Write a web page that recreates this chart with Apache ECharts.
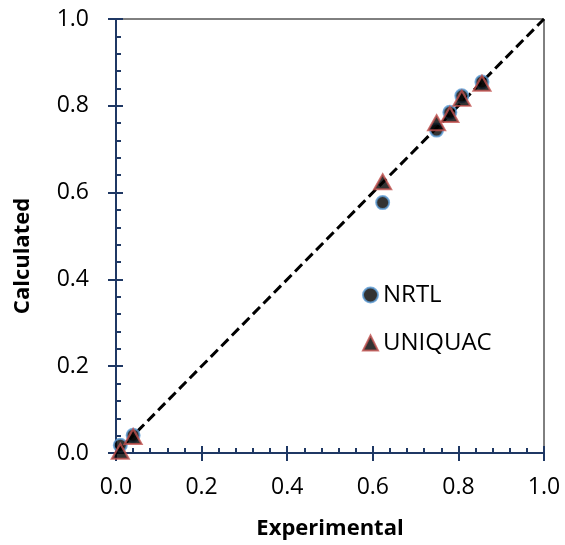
<!DOCTYPE html>
<html>
<head>
<meta charset="utf-8">
<script src="https://cdn.jsdelivr.net/npm/echarts@6/dist/echarts.min.js"></script>
<style>
  html, body { margin: 0; padding: 0; background: #fff; }
  #main { width: 565px; height: 545px; }
</style>
</head>
<body>
<div id="main"></div>
<script>
// values
var expNRTL = [0.010, 0.040, 0.623, 0.749, 0.780, 0.808, 0.855];
var calcNRTL = [0.018, 0.041, 0.577, 0.744, 0.785, 0.823, 0.855];
var expUNIQUAC = [0.010, 0.040, 0.623, 0.749, 0.780, 0.808, 0.855];
var calcUNIQUAC = [0.004, 0.038, 0.625, 0.761, 0.780, 0.817, 0.852];
var diagonal = [0, 1];   // y = x reference line

var navy = '#1F3864';
var font = 'Open Sans';

function pairs(xs, ys) {
    return xs.map(function (x, i) { return [x, ys[i]]; });
}

var dom = document.getElementById('main');
var myChart = echarts.init(dom, null, { renderer: 'canvas' });

// main axis: line, inner major ticks, inner minor ticks, labels
function mainAxis(name, isX) {
    return {
        type: 'value',
        min: 0, max: 1, interval: 0.2,
        name: name,
        nameLocation: 'middle',
        nameGap: isX ? 65 : 82,
        nameTextStyle: {
            fontFamily: font, fontSize: 22, fontWeight: 'bold', color: '#000',
            padding: isX ? 0 : [0, 40, 0, 0]   // y title sits a bit below centre in the original
        },
        axisLine: { show: true, lineStyle: { color: navy, width: 2 } },
        axisTick: { show: true, inside: true, length: 7, lineStyle: { color: navy, width: 2 } },
        minorTick: { show: true, splitNumber: 5, length: 5, lineStyle: { color: navy, width: 2 } },
        axisLabel: {
            margin: isX ? 23 : 27,
            fontFamily: font, fontSize: 23, color: '#000',
            formatter: function (v) { return v.toFixed(1); }
        },
        splitLine: { show: false }
    };
}

// second axis at same place: only the outer half of the major ticks
function outerTicks(isX) {
    return {
        type: 'value',
        min: 0, max: 1, interval: 0.2,
        position: isX ? 'bottom' : 'left',
        axisLine: { show: false },
        axisTick: { show: true, inside: false, length: 8, lineStyle: { color: navy, width: 2 } },
        axisLabel: { show: false },
        splitLine: { show: false }
    };
}

var option = {
    animation: false,
    grid: {
        left: 116, top: 19, right: 21, bottom: 92,
        show: true, borderColor: '#000', borderWidth: 1
    },
    legend: {
        orient: 'vertical',
        left: 357, top: 278,
        itemGap: 24,
        itemWidth: 15, itemHeight: 15,
        textStyle: { fontFamily: font, fontSize: 24, color: '#000' },
        data: ['NRTL', 'UNIQUAC']
    },
    xAxis: [mainAxis('Experimental', true), outerTicks(true)],
    yAxis: [mainAxis('Calculated', false), outerTicks(false)],
    series: [
        {
            name: 'y = x',
            type: 'line',
            data: pairs(diagonal, diagonal),
            symbol: 'none',
            lineStyle: { color: '#000', width: 3, type: [10, 5] },
            z: 1
        },
        {
            name: 'NRTL',
            type: 'scatter',
            data: pairs(expNRTL, calcNRTL),
            symbol: 'circle',
            symbolSize: 13,
            itemStyle: { color: '#000', borderColor: '#5B9BD5', borderWidth: 2 },
            z: 2
        },
        {
            name: 'UNIQUAC',
            type: 'scatter',
            data: pairs(expUNIQUAC, calcUNIQUAC),
            symbol: 'triangle',
            symbolSize: [17, 15],
            itemStyle: { color: '#000', borderColor: '#C0504D', borderWidth: 2 },
            z: 3
        }
    ]
};

myChart.setOption(option);
window.addEventListener('resize', myChart.resize);
</script>
</body>
</html>
